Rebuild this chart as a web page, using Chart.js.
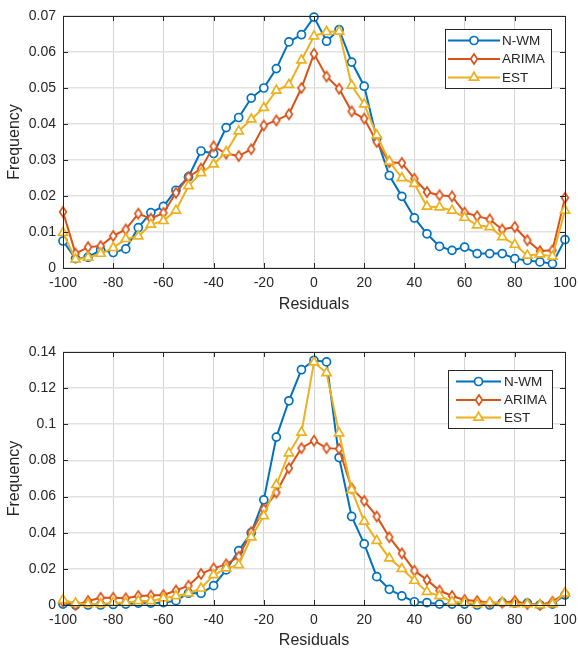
<!DOCTYPE html>
<html><head><meta charset="utf-8">
<script src="https://cdn.jsdelivr.net/npm/chart.js@4.4.1/dist/chart.umd.min.js"></script>
<style>
html,body{margin:0;padding:0;background:#fff;}
#wrap{position:relative;width:578px;height:649px;overflow:hidden;}
canvas{position:absolute;left:0;display:block;}
</style></head><body>
<div id="wrap">
<canvas id="c1" width="578" height="313" style="top:0"></canvas>
<canvas id="c2" width="578" height="336" style="top:313px"></canvas>
</div>
<script>
// ---- data ----
const residuals = [-100,-95,-90,-85,-80,-75,-70,-65,-60,-55,-50,-45,-40,-35,-30,-25,-20,-15,-10,-5,0,5,10,15,20,25,30,35,40,45,50,55,60,65,70,75,80,85,90,95,100];
const seriesNames = ['N-WM','ARIMA','EST'];

const topNWM = [0.0075,0.0026,0.003,0.005,0.0043,0.0053,0.0112,0.0154,0.0171,0.0216,0.0253,0.0325,0.0318,0.039,0.0418,0.0472,0.050,0.0554,0.0628,0.0648,0.0697,0.063,0.0662,0.0572,0.0505,0.036,0.0257,0.0199,0.0139,0.0095,0.006,0.0049,0.0058,0.004,0.004,0.004,0.0026,0.0021,0.0017,0.0012,0.0079];
const topARIMA = [0.0156,0.004,0.0058,0.0061,0.0089,0.0107,0.0151,0.0137,0.0153,0.0209,0.0253,0.0276,0.0338,0.0318,0.0311,0.033,0.0396,0.041,0.0427,0.050,0.0595,0.0532,0.0498,0.0435,0.0415,0.035,0.0294,0.0292,0.0248,0.0211,0.0202,0.0199,0.0154,0.0144,0.0135,0.0107,0.0114,0.0077,0.0047,0.0049,0.0195];
const topEST = [0.0098,0.0024,0.0029,0.004,0.0056,0.0081,0.0088,0.0121,0.0131,0.016,0.0228,0.0264,0.0288,0.0322,0.038,0.0413,0.0445,0.0493,0.0509,0.0577,0.0644,0.0656,0.0657,0.0507,0.0455,0.0369,0.0296,0.025,0.0234,0.0171,0.0169,0.016,0.014,0.0119,0.0114,0.0086,0.0065,0.0035,0.0038,0.0032,0.016];

const botNWM = [0.0005,0,0,0,0.0003,0.0005,0.001,0.001,0.0013,0.0024,0.0065,0.0065,0.0107,0.0194,0.0301,0.040,0.0582,0.0929,0.113,0.1302,0.1354,0.1345,0.0816,0.049,0.0338,0.0157,0.0087,0.005,0.0018,0.0013,0.0005,0.0005,0.0005,0,0,0.0013,0.001,0.001,0,0.0005,0.0055];
const botARIMA = [0.0018,0,0.0022,0.004,0.004,0.0037,0.005,0.0052,0.0055,0.008,0.0107,0.0172,0.0203,0.0225,0.0268,0.0403,0.053,0.0622,0.0757,0.0868,0.0909,0.0868,0.0864,0.0646,0.0576,0.049,0.0375,0.0286,0.019,0.0139,0.008,0.005,0.0028,0.0022,0.0013,0.0013,0.0022,0.0005,0,0.0018,0.0065];
const botEST = [0.0028,0.001,0.0005,0.0005,0.0013,0.0013,0.0022,0.0022,0.0037,0.005,0.0065,0.0092,0.0166,0.0203,0.0222,0.0375,0.0493,0.0665,0.084,0.0955,0.1343,0.1284,0.0951,0.0637,0.0462,0.0356,0.0259,0.02,0.0135,0.0074,0.005,0.0018,0.0013,0.0005,0.0013,0.0013,0.0005,0.0005,0,0.0005,0.0065];

const xTickValues = [-100,-80,-60,-40,-20,0,20,40,60,80,100];

// ---- styles ----
const COLORS = ['#0072BD','#D95319','#EDB120'];
const TXT = '#262626';
const FONT = '"Liberation Sans", Arial, Helvetica, sans-serif';

// tall MATLAB-like diamond marker as a small canvas
function diamondCanvas(color){
  const c = document.createElement('canvas');
  c.width = 12; c.height = 14;
  const g = c.getContext('2d');
  const cx = 6, cy = 7, hw = 3.4, hh = 5.0;
  g.fillStyle = '#fff'; g.strokeStyle = color; g.lineWidth = 1.7; g.lineJoin = 'miter';
  g.beginPath(); g.moveTo(cx, cy-hh); g.lineTo(cx+hw, cy); g.lineTo(cx, cy+hh); g.lineTo(cx-hw, cy); g.closePath();
  g.fill(); g.stroke();
  return c;
}
const STYLES = ['circle', diamondCanvas(COLORS[1]), 'triangle'];
const RADII = [4.0, 5, 5.3];

function drawMarker(ctx, style, r, x, y){
  if(style instanceof HTMLCanvasElement){
    ctx.drawImage(style, Math.round(x - style.width/2), Math.round(y - style.height/2));
    return;
  }
  ctx.beginPath();
  if(style==='circle'){ ctx.arc(x,y,r,0,Math.PI*2); }
  else {
    ctx.moveTo(x, y - r);
    ctx.lineTo(x + r*Math.cos(Math.PI/6), y + r*0.5);
    ctx.lineTo(x - r*Math.cos(Math.PI/6), y + r*0.5);
    ctx.closePath();
  }
  ctx.fill(); ctx.stroke();
}

const framePlugin = {
  id:'frame',
  afterDatasetsDraw(chart, args, opts){
    const ctx = chart.ctx, a = chart.chartArea;
    const xs = chart.scales.x, ys = chart.scales.y;
    ctx.save();
    ctx.strokeStyle = TXT; ctx.lineWidth = 1;
    ctx.beginPath();
    ctx.rect(Math.round(a.left)+0.5, Math.round(a.top)+0.5, Math.round(a.right-a.left), Math.round(a.bottom-a.top));
    ctx.stroke();
    const tl = 5;
    ctx.beginPath();
    xs.ticks.forEach(t=>{
      const px = Math.round(xs.getPixelForValue(t.value))+0.5;
      ctx.moveTo(px,a.bottom); ctx.lineTo(px,a.bottom-tl);
      ctx.moveTo(px,a.top); ctx.lineTo(px,a.top+tl);
    });
    ys.ticks.forEach(t=>{
      const py = Math.round(ys.getPixelForValue(t.value))+0.5;
      ctx.moveTo(a.left,py); ctx.lineTo(a.left+tl,py);
      ctx.moveTo(a.right,py); ctx.lineTo(a.right-tl,py);
    });
    ctx.stroke();
    // legend box
    const L = opts.box;
    ctx.fillStyle = '#fff';
    ctx.fillRect(L.x, L.y, L.w, L.h);
    ctx.strokeStyle = TXT;
    ctx.strokeRect(L.x+0.5, L.y+0.5, L.w, L.h);
    seriesNames.forEach((name,i)=>{
      const ds = chart.data.datasets.find(d=>d.label===name);
      const cy = L.y + L.rows[i];
      ctx.strokeStyle = ds.borderColor; ctx.lineWidth = ds.borderWidth;
      ctx.beginPath(); ctx.moveTo(L.x+L.l0, cy); ctx.lineTo(L.x+L.l1, cy); ctx.stroke();
      ctx.fillStyle = '#fff'; ctx.lineWidth = ds.pointBorderWidth;
      drawMarker(ctx, ds.pointStyle, ds.pointRadius, L.x+(L.l0+L.l1)/2, cy);
      ctx.fillStyle = TXT; ctx.font = '13.5px '+FONT; ctx.textBaseline='middle'; ctx.textAlign='left';
      ctx.fillText(name, L.x+L.tx, cy+0.5);
    });
    ctx.restore();
  }
};

function makeChart(id, vals, yMax, yStep, padTop, xHeight, box){
  const datasets = vals.map((v,i)=>({
    label: seriesNames[i],
    data: residuals.map((x,k)=>({x:x, y:v[k]})),
    borderColor: COLORS[i], backgroundColor:'#fff',
    borderWidth: 2, pointStyle: STYLES[i], pointRadius: RADII[i],
    pointBorderWidth: 1.7, pointBackgroundColor:'#fff', pointBorderColor: COLORS[i],
    tension:0, clip:false, order: 3-i
  }));
  return new Chart(document.getElementById(id), {
    type:'line',
    data:{datasets},
    options:{
      responsive:false, animation:false, devicePixelRatio:1,
      layout:{padding:{top:padTop,right:13,left:0,bottom:0}},
      plugins:{legend:{display:false}, tooltip:{enabled:false}, frame:{box}},
      scales:{
        x:{type:'linear', min:-100, max:100,
           afterBuildTicks(s){ s.ticks = xTickValues.map(v=>({value:v})); },
           ticks:{color:TXT, font:{family:FONT,size:14}, padding:7, maxRotation:0, autoSkip:false},
           grid:{color:'#d4d4d4', drawTicks:false, lineWidth:1}, border:{display:false},
           title:{display:true, text:'Residuals', color:TXT, font:{family:FONT,size:16,lineHeight:1}, padding:0},
           afterFit(s){ s.height = xHeight; s.paddingLeft=0; s.paddingRight=0; }
        },
        y:{type:'linear', min:0, max:yMax,
           ticks:{stepSize:yStep, color:TXT, font:{family:FONT,size:14}, padding:7,
                  callback:v=>String(+(+v).toFixed(2))},
           grid:{color:'#e2e2e2', drawTicks:false, lineWidth:1.6}, border:{display:false},
           title:{display:true, text:'Frequency', color:TXT, font:{family:FONT,size:16,lineHeight:1}, padding:{top:7,bottom:0}},
           afterFit(s){ s.width = 63; s.paddingTop=0; s.paddingBottom=0; }
        }
      }
    },
    plugins:[framePlugin]
  });
}

makeChart('c1', [topNWM, topARIMA, topEST], 0.07, 0.01, 16, 45,
  {x:445, y:29, w:106, h:59, rows:[11.5,30,48.5], l0:3, l1:55, tx:57});
makeChart('c2', [botNWM, botARIMA, botEST], 0.14, 0.02, 39, 44,
  {x:448, y:57, w:104, h:58, rows:[11.5,30,47.5], l0:8, l1:53, tx:56});
</script>
</body></html>
